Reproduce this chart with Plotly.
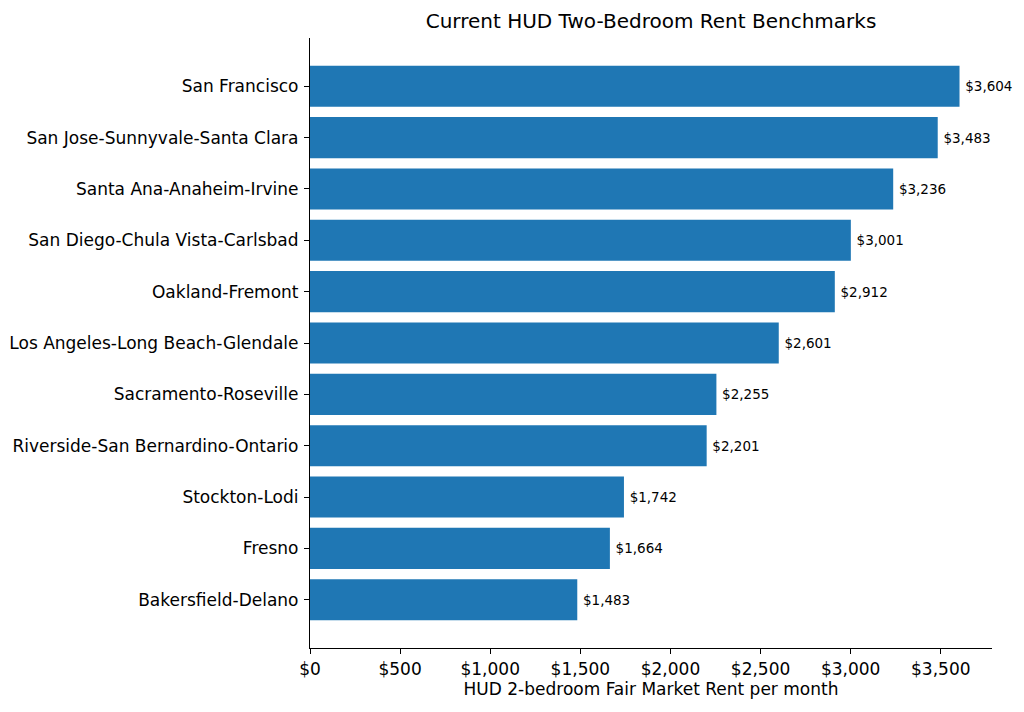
import plotly.graph_objects as go

# metro areas, highest rent first
metros = [
    "San Francisco",
    "San Jose-Sunnyvale-Santa Clara",
    "Santa Ana-Anaheim-Irvine",
    "San Diego-Chula Vista-Carlsbad",
    "Oakland-Fremont",
    "Los Angeles-Long Beach-Glendale",
    "Sacramento-Roseville",
    "Riverside-San Bernardino-Ontario",
    "Stockton-Lodi",
    "Fresno",
    "Bakersfield-Delano",
]
rents = [3604, 3483, 3236, 3001, 2912, 2601, 2255, 2201, 1742, 1664, 1483]
x_ticks = [0, 500, 1000, 1500, 2000, 2500, 3000, 3500]

# plotly draws categories bottom-up, so flip
y_cat = metros[::-1]
x_val = rents[::-1]

# the page sits 8px in from the window corner, so size the figure to fit
W, H = 1016, 704

fig = go.Figure(go.Bar(
    x=x_val,
    y=y_cat,
    orientation="h",
    marker=dict(color="#1f77b4", line=dict(width=0)),
    # thin space pushes the value label a little further off the bar end
    text=[f"\u2009${v:,}" for v in x_val],
    textposition="outside",
    textfont=dict(family="DejaVu Sans", size=13.5, color="black"),
    cliponaxis=False,
))

fig.update_layout(
    width=W,
    height=H,
    margin=dict(l=302, r=32, t=30, b=64),
    paper_bgcolor="white",
    plot_bgcolor="white",
    font=dict(family="DejaVu Sans", size=17, color="black"),
    bargap=0.2,
    showlegend=False,
    title=dict(
        text="Current HUD Two-Bedroom Rent Benchmarks",
        x=(302 + 984) / 2 / W,
        xanchor="center",
        y=1 - 13 / H,
        yanchor="middle",
        font=dict(size=20),
    ),
    xaxis=dict(
        range=[0, max(rents) * 1.05],
        tickvals=x_ticks,
        ticktext=[f"${v:,}" for v in x_ticks],
        tickfont=dict(size=17),
        ticks="outside",
        ticklen=5,
        tickwidth=1.2,
        tickcolor="black",
        showline=True,
        linecolor="black",
        linewidth=1.2,
        showgrid=False,
        zeroline=False,
        automargin=False,
        title=dict(text="HUD 2-bedroom Fair Market Rent per month",
                   font=dict(size=17), standoff=5),
    ),
    yaxis=dict(
        categoryorder="array",
        categoryarray=y_cat,
        range=[-0.94, len(metros) - 1 + 0.94],
        tickfont=dict(size=17),
        ticks="outside",
        ticklen=5,
        tickwidth=1.2,
        tickcolor="black",
        ticklabelstandoff=2,
        showline=True,
        linecolor="black",
        linewidth=1.2,
        showgrid=False,
        zeroline=False,
        automargin=False,
    ),
)

fig.write_html("out.html")
